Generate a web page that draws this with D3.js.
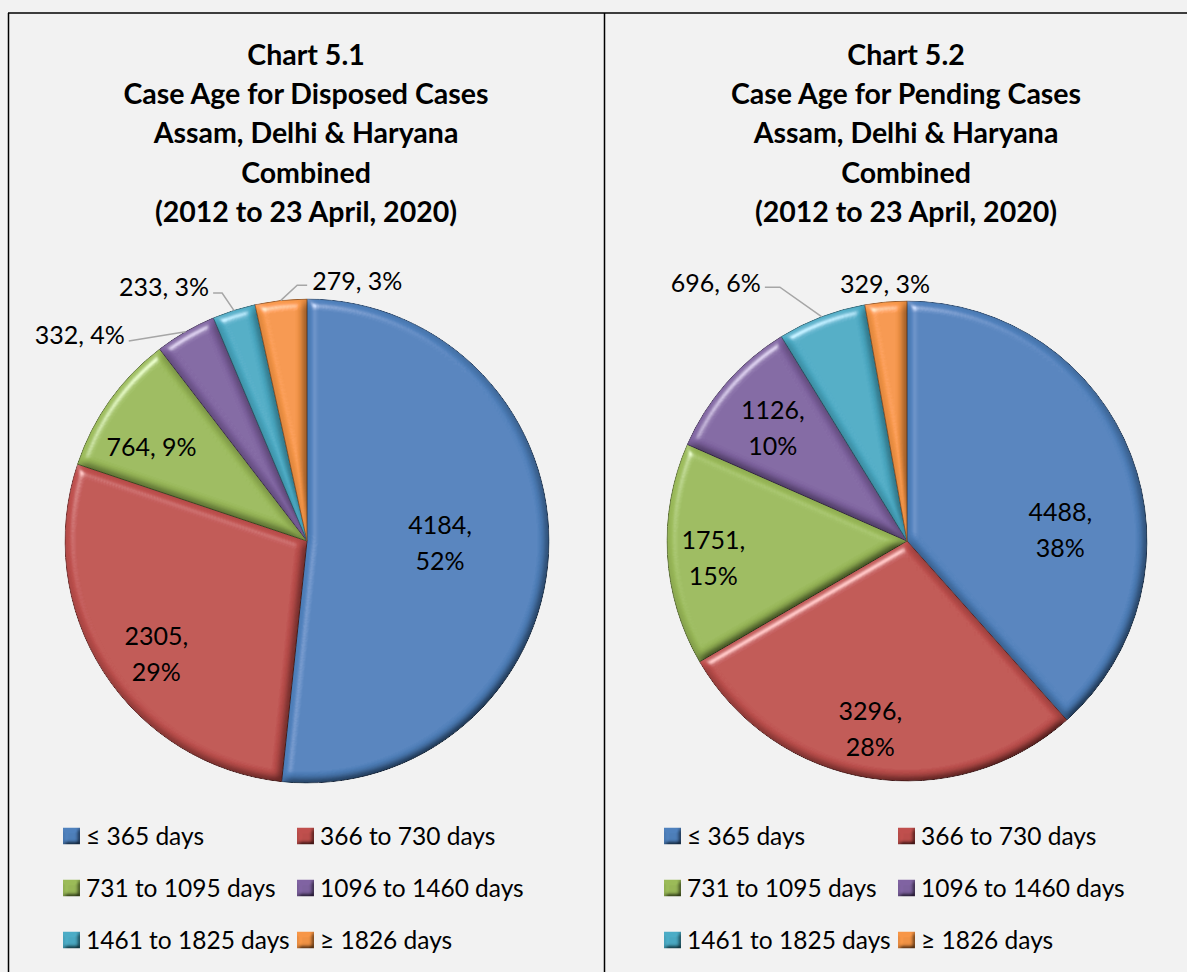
<!DOCTYPE html>
<html>
<head>
<meta charset="utf-8">
<script src="https://cdn.jsdelivr.net/npm/d3@7"></script>
<style>
  html, body { margin: 0; padding: 0; background: #f2f2f2; }
  svg { display: block; }
  text { font-family: Lato, "Open Sans", sans-serif; fill: #000; }
</style>
</head>
<body>
<div id="root"></div>
<script>
const categories = ["≤ 365 days", "366 to 730 days", "731 to 1095 days", "1096 to 1460 days", "1461 to 1825 days", "≥ 1826 days"];
const disposedValues = [4184, 2305, 764, 332, 233, 279];
const disposedPct = [52, 29, 9, 4, 3, 3];
const pendingValues = [4488, 3296, 1751, 1126, 696, 329];
const pendingPct = [38, 28, 15, 10, 6, 3];
const disposedTitle = ["Chart 5.1", "Case Age for Disposed Cases", "Assam, Delhi & Haryana", "Combined", "(2012 to 23 April, 2020)"];
const pendingTitle = ["Chart 5.2", "Case Age for Pending Cases", "Assam, Delhi & Haryana", "Combined", "(2012 to 23 April, 2020)"];
const colors = ["#4F81BD", "#C0504D", "#9BBB59", "#8064A2", "#4BACC6", "#F79646"];

// label placement, polar (deg clockwise from 12 o'clock, fraction of radius)
const disposedLabels = [
  { a: 91, r: 0.55, wrap: true },
  { a: 233, r: 0.78, wrap: true },
  { a: 301, r: 0.75, wrap: false },
  { a: 318.3, r: 1.107, out: true, h: 0, side: "end", dy: -6 },
  { a: 341.1, r: 1.083, out: true, h: -9, side: "end", dy: -6 },
  { a: 357.8, r: 1.058, out: true, h: 10, side: "start", dy: -4 }
];
const pendingLabels = [
  { a: 86, r: 0.64, wrap: true },
  { a: 191, r: 0.80, wrap: true },
  { a: 265, r: 0.81, wrap: true },
  { a: 310, r: 0.73, wrap: true },
  { a: 333.4, r: 1.183, out: true, h: -15, side: "end", dy: -4 },
  { a: 355.1, r: 1.075, wrap: false }
];

const W = 1187, H = 972;
const svg = d3.select('#root').append('svg').attr('width', W).attr('height', H);

// bevel look
const defs = svg.append('defs');
let f = defs.append('filter').attr('id', 'bevel').attr('x', '-5%').attr('y', '-5%').attr('width', '110%').attr('height', '110%');
f.append('feGaussianBlur').attr('in', 'SourceAlpha').attr('stdDeviation', 5).attr('result', 'blur');
let spec = f.append('feSpecularLighting').attr('in', 'blur').attr('surfaceScale', 7)
  .attr('specularConstant', 0.8).attr('specularExponent', 30).attr('lighting-color', '#ffffff').attr('result', 'spec');
spec.append('feDistantLight').attr('azimuth', 235).attr('elevation', 40);
f.append('feComposite').attr('in', 'spec').attr('in2', 'SourceAlpha').attr('operator', 'in').attr('result', 'specIn');
let diff = f.append('feDiffuseLighting').attr('in', 'blur').attr('surfaceScale', 7)
  .attr('diffuseConstant', 1.12).attr('lighting-color', '#ffffff').attr('result', 'diff');
diff.append('feDistantLight').attr('azimuth', 235).attr('elevation', 60);
f.append('feComposite').attr('in', 'SourceGraphic').attr('in2', 'diff').attr('operator', 'arithmetic')
  .attr('k1', 1).attr('k2', 0).attr('k3', 0).attr('k4', 0).attr('result', 'shaded');
f.append('feComposite').attr('in', 'shaded').attr('in2', 'specIn').attr('operator', 'arithmetic')
  .attr('k1', 0).attr('k2', 1).attr('k3', 0.6).attr('k4', 0).attr('result', 'lit');
f.append('feComposite').attr('in', 'lit').attr('in2', 'SourceAlpha').attr('operator', 'in');

let f2 = defs.append('filter').attr('id', 'bevelSmall');
f2.append('feGaussianBlur').attr('in', 'SourceAlpha').attr('stdDeviation', 2).attr('result', 'blur');
let d2 = f2.append('feDiffuseLighting').attr('in', 'blur').attr('surfaceScale', 4)
  .attr('diffuseConstant', 1.15).attr('lighting-color', '#ffffff').attr('result', 'diff');
d2.append('feDistantLight').attr('azimuth', 235).attr('elevation', 55);
f2.append('feComposite').attr('in', 'SourceGraphic').attr('in2', 'diff').attr('operator', 'arithmetic')
  .attr('k1', 1).attr('k2', 0).attr('k3', 0).attr('k4', 0).attr('result', 'shaded');
f2.append('feComposite').attr('in', 'shaded').attr('in2', 'SourceAlpha').attr('operator', 'in');

// frame lines
svg.append('line').attr('x1', 8).attr('x2', W).attr('y1', 13).attr('y2', 13).attr('stroke', '#000').attr('stroke-width', 1.5);
svg.append('line').attr('x1', 8.5).attr('x2', 8.5).attr('y1', 13).attr('y2', H).attr('stroke', '#000').attr('stroke-width', 1.5);
svg.append('line').attr('x1', 604.5).attr('x2', 604.5).attr('y1', 13).attr('y2', H).attr('stroke', '#000').attr('stroke-width', 1.5);

const rad = Math.PI / 180;

function drawPanel(cx, cy, R, titleLines, values, pcts, labels, legendX) {
  let g = svg.append('g');

  g.selectAll('.title').data(titleLines).enter().append('text')
    .attr('class', 'title')
    .attr('x', cx - 1)
    .attr('y', (d, i) => 55 + i * 39.2)
    .attr('dy', '0.35em')
    .attr('text-anchor', 'middle')
    .style('font-weight', 'bold')
    .style('font-size', '28.5px')
    .text(d => d);

  let pie = d3.pie().sort(null).value(d => d)(values);
  let arc = d3.arc().innerRadius(0).outerRadius(R);

  let pg = g.append('g').attr('transform', `translate(${cx},${cy})`);
  pg.selectAll('.slice').data(pie).enter().append('path')
    .attr('class', 'slice')
    .attr('d', arc)
    .attr('fill', (d, i) => colors[i])
    .attr('stroke', (d, i) => d3.color(colors[i]).darker(1.4))
    .attr('stroke-width', 1)
    .attr('filter', 'url(#bevel)');

  let pt = (a, r) => [Math.sin(a * rad) * r, -Math.cos(a * rad) * r];

  pie.forEach((d, i) => {
    let L = labels[i];
    let pct = pcts[i] + '%';
    let [x, y] = pt(L.a, L.r * R);
    if (L.out) {
      let mid = (d.startAngle + d.endAngle) / 2 / rad;
      let [ex, ey] = pt(mid, R);
      let x2 = x + L.h;
      pg.append('polyline')
        .attr('points', [[ex, ey], [x, y], [x2, y]].map(p => p.join(',')).join(' '))
        .attr('fill', 'none').attr('stroke', '#a6a6a6').attr('stroke-width', 1.5);
      pg.append('text')
        .attr('x', L.side === 'end' ? x2 - 4 : x2 + 5)
        .attr('y', y + L.dy)
        .attr('dy', '0.35em')
        .attr('text-anchor', L.side)
        .style('font-size', '25px')
        .text(values[i] + ', ' + pct);
    } else if (L.wrap) {
      let t = pg.append('text').attr('text-anchor', 'middle').style('font-size', '25px');
      t.append('tspan').attr('x', x).attr('y', y - 18).attr('dy', '0.35em').text(values[i] + ',');
      t.append('tspan').attr('x', x).attr('y', y + 18).attr('dy', '0.35em').text(pct);
    } else {
      pg.append('text').attr('x', x).attr('y', y).attr('dy', '0.35em')
        .attr('text-anchor', 'middle').style('font-size', '25px')
        .text(values[i] + ', ' + pct);
    }
  });

  // legend, 2 columns x 3 rows
  let lg = g.selectAll('.leg').data(categories).enter().append('g')
    .attr('class', 'leg')
    .attr('transform', (d, i) => `translate(${legendX + (i % 2) * 234},${836 + Math.floor(i / 2) * 52})`);
  lg.append('rect').attr('x', 0).attr('y', -8.5).attr('width', 17).attr('height', 17)
    .attr('fill', (d, i) => colors[i]).attr('filter', 'url(#bevelSmall)');
  lg.append('text').attr('x', 23).attr('y', 0).attr('dy', '0.35em')
    .style('font-size', '24.5px').text(d => d);
}

drawPanel(307, 541, 242, disposedTitle, disposedValues, disposedPct, disposedLabels, 63);
drawPanel(907, 541, 240, pendingTitle, pendingValues, pendingPct, pendingLabels, 664);
</script>
</body>
</html>
